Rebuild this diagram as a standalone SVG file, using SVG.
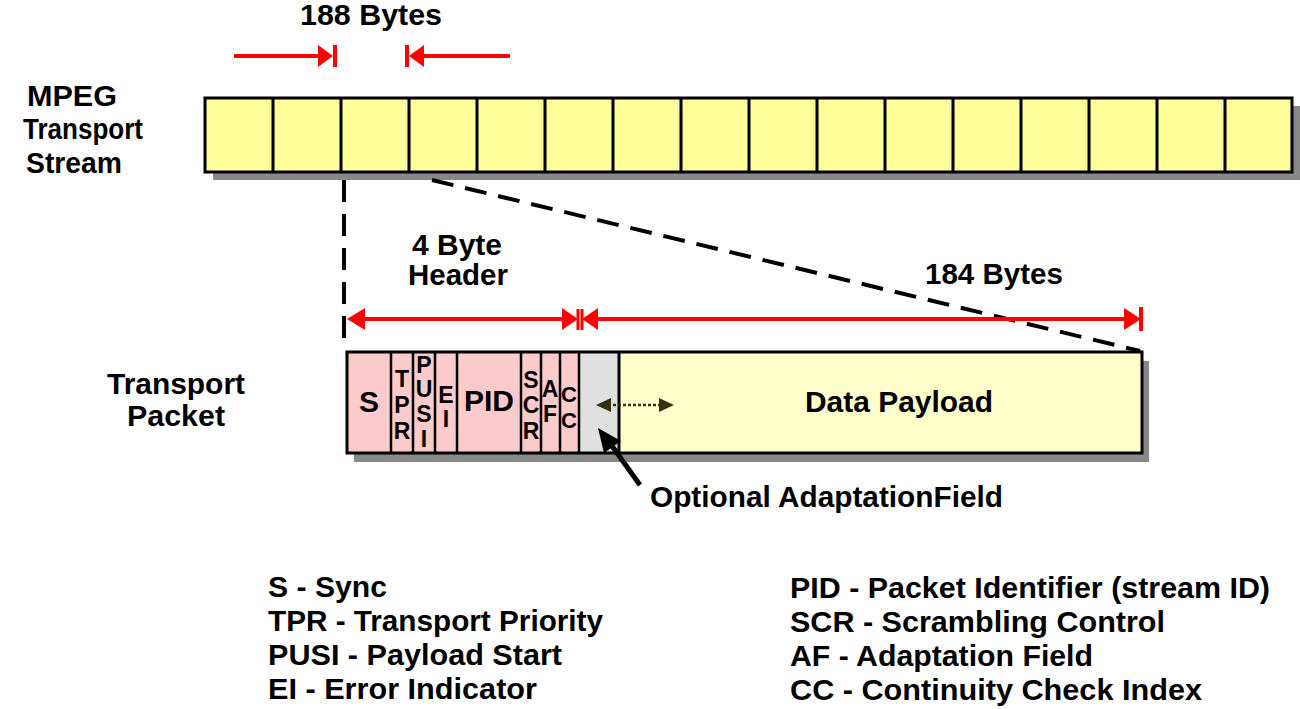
<svg xmlns="http://www.w3.org/2000/svg" width="1300" height="709" viewBox="0 0 1300 709">
<defs>
<style>
text{font-family:"Liberation Sans",Arial,sans-serif;font-weight:bold;fill:#000}
.lbl{font-size:29px}
.leg{font-size:30px}
.fld{font-size:23px;text-anchor:middle}
.big{font-size:30px;text-anchor:middle}
.cell{fill:#ffff99;stroke:#000;stroke-width:3}
.shadow{fill:#888}
.red{stroke:#f00;stroke-width:4;fill:none}
.redf{fill:#f00}
.dash{stroke:#000;stroke-width:4;stroke-dasharray:22 12;fill:none}
</style>
</defs>
<rect width="1300" height="709" fill="#fff"/>

<g id="stream">
<rect class="shadow" x="213" y="106" width="1087" height="74"/>
<rect class="cell" x="205" y="98" width="1087" height="74"/>
<path d="M273 98V172M341 98V172M409 98V172M477 98V172M545 98V172M613 98V172M681 98V172M749 98V172M817 98V172M885 98V172M953 98V172M1021 98V172M1089 98V172M1157 98V172M1225 98V172" stroke="#000" stroke-width="3"/>
</g>

<g id="stream-label">
<text class="lbl" x="27" y="106" textLength="90" lengthAdjust="spacingAndGlyphs">MPEG</text>
<text class="lbl" x="23" y="139" textLength="120" lengthAdjust="spacingAndGlyphs">Transport</text>
<text class="lbl" x="26" y="173" textLength="96" lengthAdjust="spacingAndGlyphs">Stream</text>
</g>

<g id="bytes188">
<text class="lbl" x="300" y="25" textLength="142" lengthAdjust="spacingAndGlyphs">188 Bytes</text>
</g>

<g id="packet">
<rect class="shadow" x="354" y="361" width="795" height="101"/>
<rect x="347" y="352" width="232" height="101" fill="#fbcaca"/>
<rect x="579" y="352" width="40" height="101" fill="#e0e0e0"/>
<rect x="619" y="352" width="523" height="101" fill="#ffffcc"/>
<rect x="347" y="352" width="795" height="101" fill="none" stroke="#000" stroke-width="3"/>
<path d="M391 352V453M413 352V453M435 352V453M457 352V453M521 352V453M541 352V453M560 352V453M579 352V453" stroke="#000" stroke-width="2.5"/>
<path d="M619 352V453" stroke="#000" stroke-width="3"/>
</g>

<g id="field-S"><text class="big" x="369" y="412">S</text></g>
<g id="field-TPR">
<text class="fld" x="402" y="387">T</text>
<text class="fld" x="402" y="413">P</text>
<text class="fld" x="402" y="439">R</text>
</g>
<g id="field-PUSI">
<text class="fld" x="424" y="373">P</text>
<text class="fld" x="424" y="397">U</text>
<text class="fld" x="424" y="422">S</text>
<text class="fld" x="424" y="447">I</text>
</g>
<g id="field-EI">
<text class="fld" x="446" y="403">E</text>
<text class="fld" x="446" y="427">I</text>
</g>
<g id="field-PID"><text class="big" x="489" y="411">PID</text></g>
<g id="field-SCR">
<text class="fld" x="531" y="388">S</text>
<text class="fld" x="531" y="413">C</text>
<text class="fld" x="531" y="439">R</text>
</g>
<g id="field-AF">
<text class="fld" x="550" y="397">A</text>
<text class="fld" x="550" y="422">F</text>
</g>
<g id="field-CC">
<text class="fld" x="569" y="402" style="font-size:22px">C</text>
<text class="fld" x="569" y="428" style="font-size:22px">C</text>
</g>
<g id="payload"><text class="lbl" x="805" y="412" textLength="188" lengthAdjust="spacingAndGlyphs">Data Payload</text></g>

<g id="packet-label">
<text class="lbl" x="107" y="394" textLength="138" lengthAdjust="spacingAndGlyphs">Transport</text>
<text class="lbl" x="127" y="426" textLength="98" lengthAdjust="spacingAndGlyphs">Packet</text>
</g>

<g id="header-label">
<text class="lbl" x="412" y="255" textLength="90" lengthAdjust="spacingAndGlyphs">4 Byte</text>
<text class="lbl" x="408" y="285" textLength="100" lengthAdjust="spacingAndGlyphs">Header</text>
</g>
<g id="bytes184"><text class="lbl" x="925" y="284" textLength="138" lengthAdjust="spacingAndGlyphs">184 Bytes</text></g>
<g id="adapt-label"><text class="lbl" x="650" y="507" textLength="353" lengthAdjust="spacingAndGlyphs">Optional AdaptationField</text></g>

<g id="connectors">
<path class="red" d="M234 56H320"/>
<polygon class="redf" points="333,56 318,45 318,67"/>
<rect class="redf" x="333" y="45" width="4" height="22"/>
<rect class="redf" x="405" y="45" width="4" height="22"/>
<polygon class="redf" points="409,56 424,45 424,67"/>
<path class="red" d="M422 56H510"/>
<path class="dash" d="M344 180V350"/>
<path class="dash" d="M432 180L1140 351"/>
<path class="red" d="M360 319H566"/>
<polygon class="redf" points="347,319 365,308 365,330"/>
<polygon class="redf" points="578,319 562,308 562,330"/>
<rect class="redf" x="576.5" y="309" width="3" height="21"/>
<rect class="redf" x="580.5" y="309" width="3" height="21"/>
<polygon class="redf" points="582,319 598,308 598,330"/>
<path class="red" d="M594 319H1128"/>
<polygon class="redf" points="1141,319 1124,308 1124,330"/>
<rect class="redf" x="1139" y="307" width="4" height="24"/>
<path d="M608 405H662" stroke="#33330f" stroke-width="2.5" stroke-dasharray="3 2"/>
<polygon points="596,405 611,398 611,412" fill="#33330f"/>
<polygon points="674,405 659,398 659,412" fill="#33330f"/>
<path d="M640 485L612 446" stroke="#000" stroke-width="5"/>
<polygon points="598,428 621,441 604,453" fill="#000"/>
</g>

<g id="legend">
<text class="leg" x="268" y="597" textLength="119" lengthAdjust="spacingAndGlyphs">S - Sync</text>
<text class="leg" x="268" y="631" textLength="335" lengthAdjust="spacingAndGlyphs">TPR - Transport Priority</text>
<text class="leg" x="268" y="665" textLength="294" lengthAdjust="spacingAndGlyphs">PUSI - Payload Start</text>
<text class="leg" x="268" y="699" textLength="269" lengthAdjust="spacingAndGlyphs">EI - Error Indicator</text>
<text class="leg" x="790" y="598" textLength="480" lengthAdjust="spacingAndGlyphs">PID - Packet Identifier (stream ID)</text>
<text class="leg" x="790" y="632" textLength="375" lengthAdjust="spacingAndGlyphs">SCR - Scrambling Control</text>
<text class="leg" x="790" y="666" textLength="303" lengthAdjust="spacingAndGlyphs">AF - Adaptation Field</text>
<text class="leg" x="790" y="700" textLength="412" lengthAdjust="spacingAndGlyphs">CC - Continuity Check Index</text>
</g>
</svg>
